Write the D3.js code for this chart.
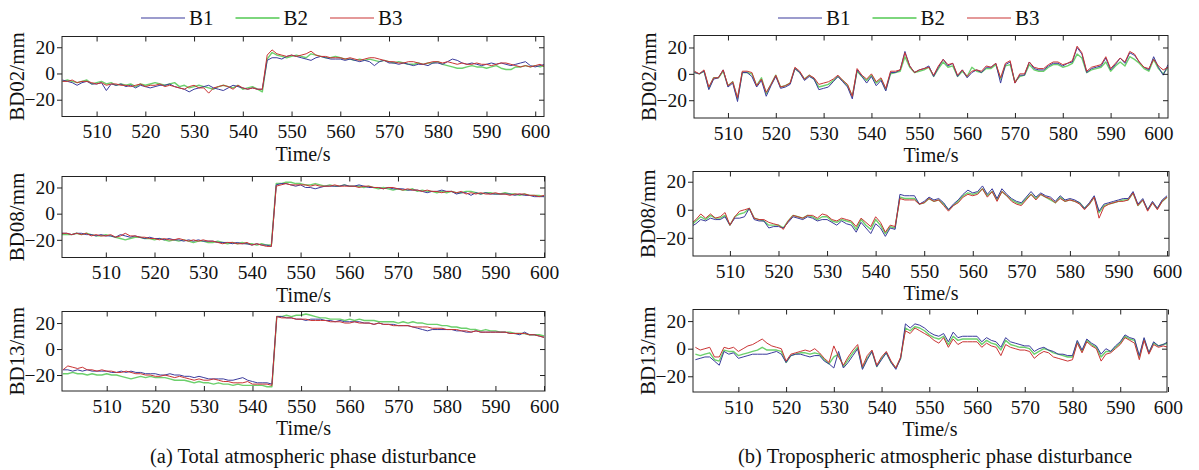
<!DOCTYPE html>
<html>
<head>
<meta charset="utf-8">
<script src="https://cdn.jsdelivr.net/npm/d3@7"></script>
<style>
  body { margin: 0; background: #fff; }
  svg { display: block; }
  svg text { font-family: "Liberation Serif", "Times New Roman", serif !important; }
</style>
</head>
<body>
<svg id="chart" width="1199" height="470"></svg>
<script>
// ---- data ----------------------------------------------------------------
var seriesNames = ["B1", "B2", "B3"];
var seriesColors = ["#3b3b9c", "#52c852", "#c93434"];
var satellites = ["BD02", "BD08", "BD13"];
var xTicks = [510, 520, 530, 540, 550, 560, 570, 580, 590, 600];
var yTicks = [-20, 0, 20];
var captions = ["(a) Total atmospheric phase disturbance", "(b) Tropospheric atmospheric phase disturbance"];

// first epoch (s) of every series, one sample per second
var totalStart = [503, 501, 501];
var tropoStart = [503, 502, 501];

// (a) total atmospheric phase disturbance, mm
var totBD02_B1 = [-5,-6,-7,-9,-7,-6,-8,-8,-7,-13, -8,-9,-8,-10,-9,-11,-9,-10,-11,-10, -9,-9,-8,-10,-11,-12,-14,-12,-11,-10,
  -9,-11,-12,-13,-11,-9,-10,-11,-12,-11, -12,-12,10,12,12,11,13,14,13,12, 11,10,12,13,12,11,11,11,10,11,
  10,9,10,9,6,9,10,8,8,7, 8,7,6,7,7,6,8,8,7,9, 11,10,8,7,8,7,6,7,8,7, 8,7,6,7,8,9,6,5,6,7];
var totBD02_B2 = [-6,-5,-6,-7,-6,-5,-8,-7,-6,-8, -7,-9,-8,-9,-8,-10,-8,-9,-8,-7, -8,-9,-8,-7,-10,-9,-11,-10,-9,-10,
  -11,-12,-10,-9,-10,-11,-9,-12,-11,-10, -12,-14,11,16,14,13,12,13,14,13, 12,15,14,13,12,12,13,12,11,11,
  10,11,10,11,10,9,10,9,8,9, 8,7,7,8,7,8,8,9,7,6, 5,4,4,5,6,5,5,4,5,6, 4,3,3,5,5,6,5,6,5,6];
var totBD02_B3 = [-6,-6,-5,-7,-6,-6,-7,-8,-7,-9, -8,-8,-9,-9,-10,-9,-8,-10,-9,-9, -8,-10,-9,-10,-11,-12,-10,-9,-11,-11,
  -15,-11,-10,-9,-10,-12,-9,-11,-12,-11, -12,-12,14,18,15,14,13,14,13,14, 15,17,14,13,13,12,12,12,11,12,
  11,10,11,12,12,11,10,9,9,8, 8,9,9,8,7,8,9,9,8,9, 8,7,8,7,7,8,7,7,6,7, 8,8,7,6,5,6,5,6,7,5];

var totBD08_B1 = [-15,-15,-16,-15,-15,-16,-16,-17,-16,-17, -17,-18,-16,-17,-18,-17,-18,-19,-18,-19, -19,-20,-19,-20,-20,-21,-20,-21,-20,-21,
  -21,-21,-22,-22,-22,-23,-22,-23,-23,-24, -23,-24,-24,-25,22,23,23,22,21,22, 20,20,19,20,21,21,21,21,22,21,
  21,22,21,20,20,20,19,20,19,19, 19,18,18,18,17,16,17,17,18,17, 17,15,16,16,14,16,15,16,15,15, 15,15,15,14,15,14,14,13,13,13];
var totBD08_B2 = [-16,-16,-16,-15,-16,-15,-16,-17,-17,-16, -17,-18,-19,-20,-19,-18,-18,-19,-19,-20, -19,-20,-21,-20,-21,-20,-21,-22,-21,-21,
  -22,-22,-21,-22,-23,-22,-23,-22,-23,-23, -24,-23,-24,-24,23,23,24,24,23,23, 22,22,23,22,21,22,21,21,22,21,
  21,21,20,21,20,19,20,19,18,19, 18,18,19,17,18,17,17,16,17,16, 17,16,16,17,17,16,15,16,16,15, 15,16,15,15,14,15,14,14,14,13];
var totBD08_B3 = [-15,-15,-16,-15,-16,-15,-17,-16,-17,-17, -16,-18,-17,-15,-17,-17,-18,-18,-19,-19, -20,-19,-20,-20,-19,-20,-21,-20,-21,-20,
  -21,-21,-22,-23,-22,-22,-23,-23,-22,-24, -23,-24,-25,-25,21,22,23,22,22,22, 22,21,22,21,21,21,22,21,21,21,
  21,20,21,21,20,20,19,20,20,19, 18,19,18,18,17,18,17,17,16,17, 17,16,17,15,16,15,16,15,15,16, 15,15,14,15,15,15,14,14,13,14];

var totBD13_B1 = [-16,-16,-17,-16,-17,-16,-17,-17,-17,-17, -18,-18,-17,-18,-17,-18,-18,-19,-19,-19, -20,-20,-19,-20,-20,-21,-21,-22,-21,-22,
  -23,-23,-23,-23,-24,-24,-23,-22,-24,-25, -26,-26,-26,-27,25,25,24,24,23,23, 22,23,23,23,22,22,21,22,21,21,
  21,21,20,20,19,20,19,19,19,18, 18,18,17,16,15,14,15,15,15,15, 15,14,14,13,13,14,13,13,13,13, 13,13,12,12,11,13,11,11,10,9];
var totBD13_B2 = [-19,-19,-18,-19,-19,-20,-19,-20,-20,-19, -20,-20,-21,-22,-23,-22,-21,-22,-21,-22, -22,-22,-23,-24,-24,-24,-25,-26,-25,-26,
  -26,-27,-26,-27,-27,-28,-27,-28,-28,-28, -28,-28,-29,-29,25,25,26,25,26,26, 27,26,25,24,24,23,23,23,22,23,
  22,23,22,22,22,21,21,21,21,20, 21,20,21,20,20,19,19,19,18,18, 17,17,16,16,15,15,14,15,14,14, 13,13,13,12,12,12,11,11,11,10];
var totBD13_B3 = [-16,-13,-14,-15,-14,-16,-16,-17,-16,-17, -17,-18,-18,-17,-18,-19,-19,-20,-20,-21, -21,-20,-21,-22,-21,-22,-23,-24,-23,-24,
  -24,-23,-24,-25,-25,-26,-26,-26,-25,-27, -27,-27,-27,-28,25,24,24,24,23,23, 23,22,22,22,22,21,21,21,20,20,
  21,20,20,20,19,20,19,19,18,18, 18,18,17,17,17,17,16,16,16,15, 15,15,14,14,13,14,13,13,13,13, 13,13,12,12,12,12,11,11,10,9];

// (b) tropospheric atmospheric phase disturbance, mm
var troBD02_B1 = [1,0,2,-12,-4,-3,3,-10,-7,-21, 1,1,-2,-10,-5,-17,-9,-2,-11,-10, -8,4,1,-5,-2,-4,-12,-11,-10,-6,
  -2,-6,-10,-19,3,-2,-7,-2,-9,-5, -13,1,1,3,17,6,1,3,4,6, -2,5,11,6,8,-2,3,-3,1,3,
  1,5,5,8,-7,7,9,-7,-1,-1, 9,4,3,3,6,8,8,6,8,9, 20,15,1,4,5,6,12,3,7,12, 8,16,14,9,5,3,13,5,-1,7];
var troBD02_B2 = [1,0,2,-11,-3,-3,2,-9,-6,-19, 1,1,0,-9,-3,-15,-8,-1,-10,-9, -7,4,1,-4,-1,-4,-10,-9,-8,-5,
  -2,-5,-9,-17,2,-2,-5,-1,-7,-4, -12,0,1,2,13,5,1,2,3,5, -2,4,9,5,6,-2,2,-2,5,2,
  1,4,4,7,-4,6,7,-6,-2,-1, 7,3,2,2,5,7,7,5,6,8, 15,12,1,3,4,5,9,2,6,9, 6,13,11,8,4,2,11,4,0,5];
var troBD02_B3 = [2,0,3,-10,-3,-3,3,-9,-6,-18, 2,2,1,-9,-4,-14,-8,-1,-10,-9, -7,5,2,-4,-1,-3,-8,-7,-6,-4,
  -1,-5,-8,-17,4,-1,-4,0,-6,-3, -11,2,2,3,16,6,1,3,4,5, -1,6,11,7,8,-1,3,-2,2,3,
  2,6,5,8,-3,8,10,-7,0,0, 9,5,4,4,7,9,9,7,8,10, 21,16,2,5,6,7,13,4,8,12, 9,17,15,9,5,4,11,6,3,5];

var troBD08_B1 = [-12,-10,-7,-8,-6,-7,-7,-5,-11,-6, -6,-5,1,-7,-8,-8,-13,-12,-12,-13, -9,-5,-6,-7,-5,-6,-8,-7,-7,-9,
  -11,-8,-10,-11,-16,-9,-13,-17,-10,-13, -19,-13,-14,11,10,10,10,4,6,9, 7,8,5,0,4,7,11,14,12,13,
  17,11,15,8,15,11,8,6,5,9, 13,9,12,10,9,6,10,7,8,7, 5,1,5,10,-1,4,5,6,7,8, 8,13,4,8,0,6,1,7,10];
var troBD08_B2 = [-11,-8,-5,-7,-4,-6,-6,-4,-11,-5, -3,-2,1,-6,-7,-8,-11,-11,-11,-13, -8,-4,-5,-6,-4,-5,-7,-5,-5,-8,
  -9,-7,-8,-9,-14,-7,-11,-14,-7,-11, -17,-12,-13,9,8,8,8,4,5,8, 6,7,4,0,3,6,10,12,11,12,
  15,10,13,7,13,10,7,5,4,8, 11,8,11,9,7,5,9,6,7,6, 5,1,4,9,-2,3,4,5,6,7, 7,12,3,7,0,5,1,6,9];
var troBD08_B3 = [-10,-7,-3,-6,-3,-6,-5,-2,-11,-5, -1,0,1,-6,-7,-7,-9,-10,-11,-14, -8,-4,-5,-6,-4,-4,-6,-3,-4,-7,
  -8,-6,-7,-8,-12,-6,-9,-12,-5,-9, -16,-11,-12,8,7,7,7,4,5,8, 6,7,3,-1,3,5,9,11,10,11,
  15,9,13,6,13,10,6,4,3,7, 11,7,11,9,8,5,8,6,7,6, 4,0,4,9,-6,2,4,5,6,6, 7,12,3,7,-1,5,0,6,9];

var troBD13_B1 = [-8,-7,-6,-6,-9,-12,-2,-4,-3,-7, -6,-5,-4,-4,-4,-4,-3,-2,-4,-10, -5,-4,-4,-5,-6,-5,-5,-9,-11,-14,
  -2,-14,-10,-5,0,-15,-8,-2,-13,-8, -3,-10,-15,-7,18,15,18,17,15,12, 10,9,11,5,12,8,9,9,9,9,
  5,8,6,5,1,8,5,4,3,2, 2,-2,0,1,-1,-2,-4,-4,-5,-5, 6,-1,7,4,2,-4,0,-2,2,5, 10,8,7,-5,8,-3,5,2,3,5];
var troBD13_B2 = [-4,-5,-4,-3,-8,-9,-1,-2,-2,-5, -4,-3,-2,-1,1,-1,-1,-1,-2,-10, -5,-4,-3,-3,-4,-3,-4,-8,-11,-6,
  -4,-13,-8,-3,1,-14,-7,-2,-13,-7, -3,-10,-14,-7,15,13,16,15,13,10, 8,7,9,3,9,6,7,7,7,7,
  3,6,4,3,-1,6,3,2,1,1, 0,-4,-2,0,-1,-3,-4,-5,-6,-6, 5,-2,6,3,1,-6,-2,-2,1,4, 9,7,6,-6,7,-3,4,2,3,4];
var troBD13_B3 = [1,-1,0,1,-6,-6,1,0,1,-2, 0,2,3,5,7,4,2,1,0,-9, -4,-3,-2,-1,-2,0,-3,-7,-10,2,
  -6,-12,-6,-1,3,-13,-5,-1,-12,-6, -2,-9,-14,-6,13,11,15,13,11,9, 6,4,8,1,7,3,5,5,5,5,
  1,4,2,1,-5,3,1,0,-1,-1, -2,-7,-4,-2,-3,-6,-7,-8,-9,-8, 4,-3,5,2,0,-9,-4,-3,0,3, 8,6,4,-8,6,-4,3,1,2,1];

// ---- panels ---------------------------------------------------------------
var panels = [
  { col: 0, row: 0, start: totalStart[0], series: [totBD02_B1, totBD02_B2, totBD02_B3],
    box: [62, 544, 36.5, 116.5], xDom: [502.9, 601.8], yDom: [-32.8, 28.2] },
  { col: 0, row: 1, start: totalStart[1], series: [totBD08_B1, totBD08_B2, totBD08_B3],
    box: [62, 545, 176.5, 257.5], xDom: [501, 600.2], yDom: [-33.5, 28.4] },
  { col: 0, row: 2, start: totalStart[2], series: [totBD13_B1, totBD13_B2, totBD13_B3],
    box: [62, 545, 311.5, 391], xDom: [500.8, 600.2], yDom: [-32.3, 28.9] },
  { col: 1, row: 0, start: tropoStart[0], series: [troBD02_B1, troBD02_B2, troBD02_B3],
    box: [694, 1168, 35.5, 118], xDom: [502.9, 602], yDom: [-33.5, 29.1] },
  { col: 1, row: 1, start: tropoStart[1], series: [troBD08_B1, troBD08_B2, troBD08_B3],
    box: [693, 1169, 171.5, 256], xDom: [502.4, 600.4], yDom: [-33, 27.3] },
  { col: 1, row: 2, start: tropoStart[2], series: [troBD13_B1, troBD13_B2, troBD13_B3],
    box: [693, 1167, 309.5, 392], xDom: [500.5, 599.8], yDom: [-31.4, 28.4] }
];

var svg = d3.select("#chart");
var serif = "Liberation Serif, Times New Roman, serif";
var drawOrder = [1, 0, 2];   // green under, red on top

panels.forEach(function(p, k) {
  var x = d3.scaleLinear().domain(p.xDom).range([p.box[0], p.box[1]]);
  var y = d3.scaleLinear().domain(p.yDom).range([p.box[3], p.box[2]]);
  var g = svg.append("g");

  g.append("clipPath").attr("id", "clip" + k)
    .append("rect")
    .attr("x", p.box[0]).attr("y", p.box[2])
    .attr("width", p.box[1] - p.box[0]).attr("height", p.box[3] - p.box[2]);

  var line = d3.line()
    .x(function(d, i) { return x(p.start + i); })
    .y(function(d) { return y(d); });

  var lines = g.append("g").attr("clip-path", "url(#clip" + k + ")");
  drawOrder.forEach(function(s) {
    lines.append("path")
      .datum(p.series[s])
      .attr("fill", "none")
      .attr("stroke", seriesColors[s])
      .attr("stroke-width", s == 1 ? 1.4 : 1)
      .attr("stroke-opacity", s == 1 ? 0.85 : 1)
      .attr("stroke-linejoin", "round")
      .attr("d", line);
  });

  // axes: x ticks point inward, y ticks outward on the left
  g.append("g").attr("transform", "translate(0," + p.box[3] + ")")
    .call(d3.axisBottom(x).tickValues(xTicks).tickSize(-5).tickPadding(8));
  g.append("g").attr("transform", "translate(0," + p.box[2] + ")")
    .call(d3.axisTop(x).tickValues(xTicks).tickSize(-5).tickFormat(""));
  g.append("g").attr("transform", "translate(" + p.box[0] + ",0)")
    .call(d3.axisLeft(y).tickValues(yTicks).tickSize(5).tickPadding(2));
  g.append("g").attr("transform", "translate(" + p.box[1] + ",0)")
    .call(d3.axisRight(y).tickValues(yTicks).tickSize(-5).tickFormat(""));

  g.selectAll(".domain").remove();
  g.selectAll(".tick line").attr("stroke", "#222");
  g.selectAll(".tick text")
    .attr("font-family", serif)
    .attr("font-size", 19.5)
    .attr("fill", "#111");

  g.append("rect")
    .attr("x", p.box[0]).attr("y", p.box[2])
    .attr("width", p.box[1] - p.box[0]).attr("height", p.box[3] - p.box[2])
    .attr("fill", "none").attr("stroke", "#222").attr("stroke-width", 1);

  var cx = (p.box[0] + p.box[1]) / 2;
  g.append("text")
    .attr("x", cx).attr("y", p.box[3] + 44)
    .attr("text-anchor", "middle").attr("font-family", serif)
    .attr("font-size", 20).attr("fill", "#111")
    .text("Time/s");

  var cy = (p.box[2] + p.box[3]) / 2;
  g.append("text")
    .attr("transform", "translate(" + (p.box[0] - 45) + "," + cy + ") rotate(-90)")
    .attr("text-anchor", "middle").attr("dy", "0.35em")
    .attr("font-family", serif).attr("font-size", 21).attr("fill", "#111")
    .text(satellites[p.row] + "/mm");
});

// legends above the first row
[141, 778].forEach(function(lx) {
  var lg = svg.append("g").attr("transform", "translate(" + lx + ",18)");
  seriesNames.forEach(function(name, i) {
    var ox = i * 94.5;
    lg.append("line")
      .attr("x1", ox).attr("x2", ox + 44).attr("y1", 0).attr("y2", 0)
      .attr("stroke", seriesColors[i]).attr("stroke-width", i == 1 ? 1.6 : 1.2);
    lg.append("text")
      .attr("x", ox + 48).attr("y", 7)
      .attr("font-family", serif).attr("font-size", 21).attr("fill", "#111")
      .text(name);
  });
});

// captions
[313, 935].forEach(function(cx, i) {
  svg.append("text")
    .attr("x", cx).attr("y", 463)
    .attr("text-anchor", "middle").attr("font-family", serif)
    .attr("font-size", 20.5).attr("fill", "#111")
    .text(captions[i]);
});
</script>
</body>
</html>
